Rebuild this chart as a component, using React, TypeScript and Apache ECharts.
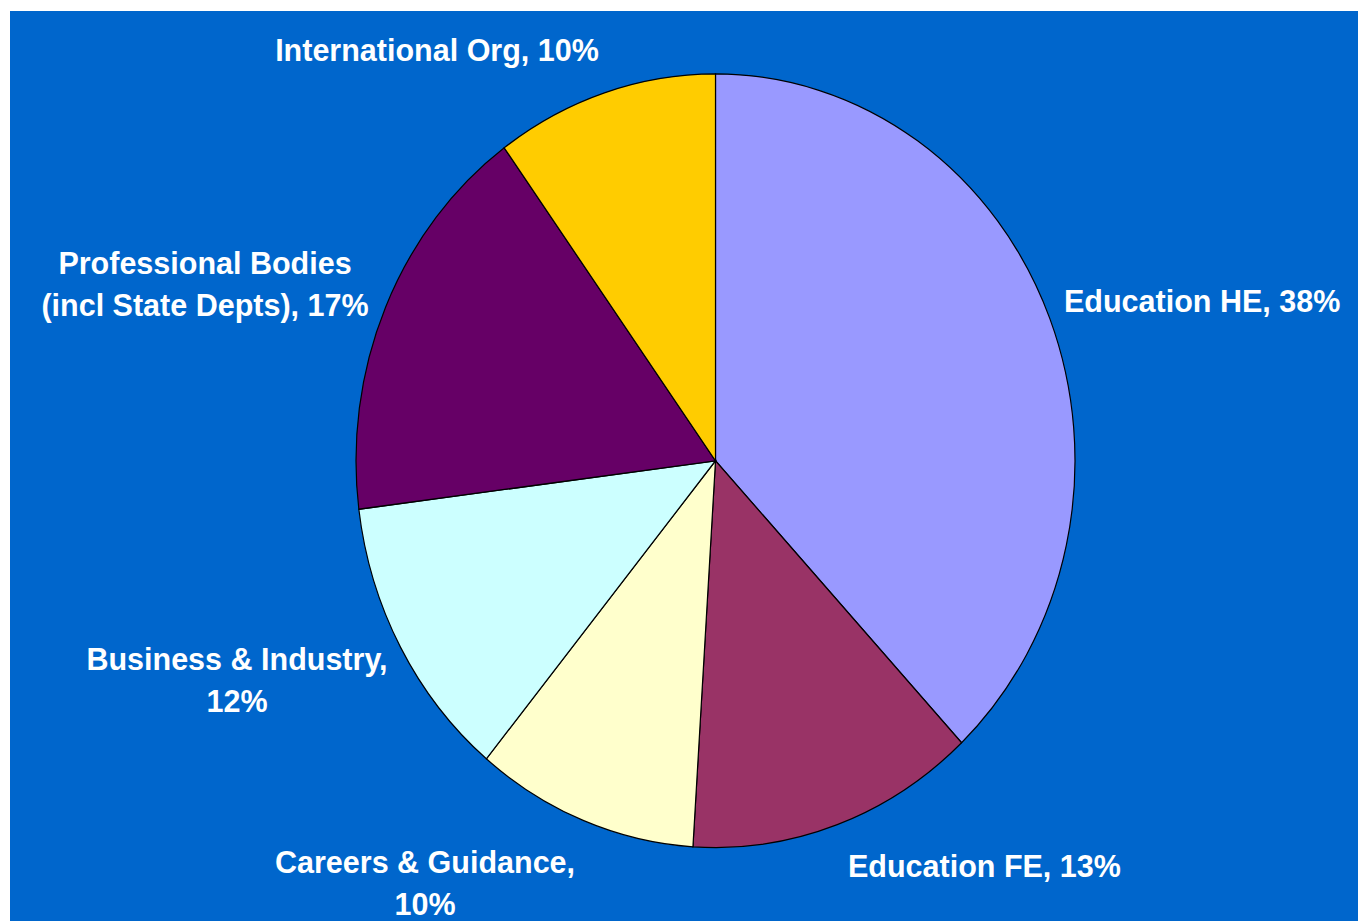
import React, { useEffect, useRef } from "react";
import * as echarts from "echarts";

const categories = [
  "Education HE",
  "Education FE",
  "Careers & Guidance,",
  "Business & Industry,",
  "Professional Bodies\n(incl State Depts),",
  "International Org,",
];
const values = [38, 13, 10, 12, 17, 10];
const colors = ["#9999FF", "#993366", "#FFFFCC", "#CCFFFF", "#660066", "#FFCC00"];
const labelTexts = [
  "Education HE, 38%",
  "Education FE, 13%",
  "Careers & Guidance,\n10%",
  "Business & Industry,\n12%",
  "Professional Bodies\n(incl State Depts), 17%",
  "International Org, 10%",
];

// layout (page pixel coordinates)
const CX = 715.5;
const CY = 461;
const RX = 359.5;
const RY = 387;
const labelLayout: { x: number; y: number; align: string }[] = [
  { x: 1064, y: 301, align: "left" },
  { x: 848, y: 866, align: "left" },
  { x: 425, y: 883, align: "center" },
  { x: 237, y: 680, align: "center" },
  { x: 205, y: 284, align: "center" },
  { x: 437, y: 50, align: "center" },
];

export default function App() {
  const ref = useRef<HTMLDivElement>(null);
  useEffect(() => {
    if (!ref.current) return;
    const chart = echarts.init(ref.current, undefined, { renderer: "svg" });
    const total = values.reduce((a, b) => a + b, 0);
    const option: any = {
      animation: false,
      backgroundColor: "#ffffff",
      graphic: [
        {
          type: "rect",
          z: -10,
          shape: { x: 10, y: 11, width: 1348, height: 910 },
          style: { fill: "#0066CC" },
          silent: true,
        },
      ],
      series: [
        {
          type: "custom",
          coordinateSystem: "none",
          data: values.map((v, i) => ({ name: categories[i], value: v })),
          renderItem: (params: any, api: any) => {
            const i = params.dataIndex;
            let cum = 0;
            for (let k = 0; k < i; k++) cum += values[k];
            const start = -Math.PI / 2 + (cum / total) * Math.PI * 2;
            const end = start + (values[i] / total) * Math.PI * 2;
            const lay = labelLayout[i];
            return {
              type: "group",
              children: [
                {
                  type: "sector",
                  shape: { cx: CX, cy: CY, r0: 0, r: RX, startAngle: start, endAngle: end, clockwise: true },
                  originX: CX,
                  originY: CY,
                  scaleY: RY / RX,
                  style: { fill: colors[i], stroke: "#000000", lineWidth: 1.2, strokeNoScale: true },
                },
                {
                  type: "text",
                  x: lay.x,
                  y: lay.y,
                  style: {
                    text: labelTexts[i],
                    fill: "#ffffff",
                    fontSize: 30.5,
                    fontWeight: "bold",
                    fontFamily: "'Liberation Sans', Arial, sans-serif",
                    align: lay.align,
                    verticalAlign: "middle",
                    lineHeight: 42,
                  },
                },
              ],
            };
          },
        },
      ],
    };
    chart.setOption(option);
    return () => chart.dispose();
  }, []);
  return (
    <div
      ref={ref}
      style={{ position: "absolute", left: 0, top: 0, width: 1358, height: 921 }}
    />
  );
}
